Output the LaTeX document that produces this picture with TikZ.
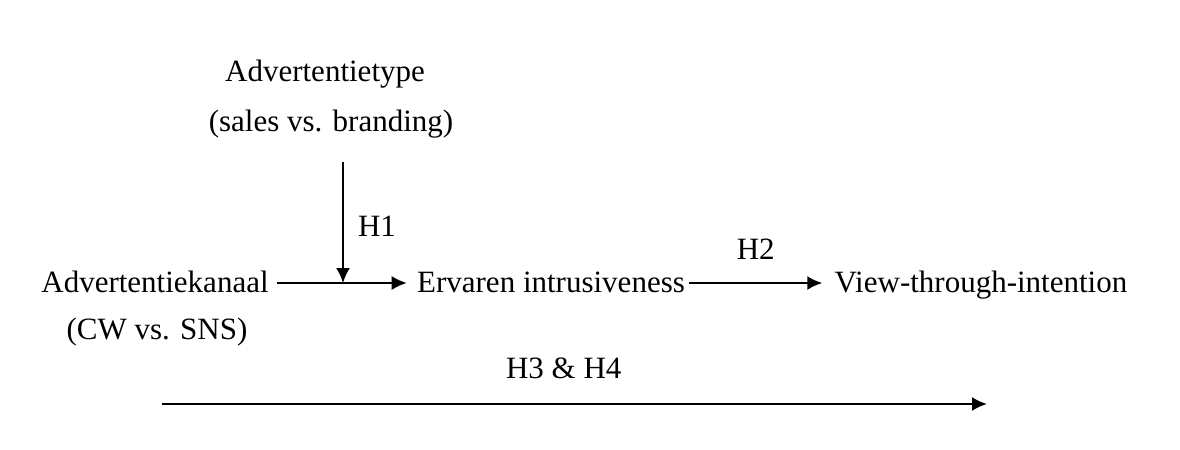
\documentclass[tikz,border=0pt]{standalone}
\usepackage{fontspec}
\setmainfont{Liberation Serif}
\usetikzlibrary{arrows.meta,positioning,calc}

\begin{document}
\begin{tikzpicture}[x=0.5pt,y=-0.5pt,
  every node/.style={font=\fontsize{15.5}{18}\selectfont, inner sep=0pt,
    text height=10.5pt, text depth=3.5pt},
  link/.style={-{Latex[length=7.5pt,width=7pt]}, line width=1pt}]
  \useasboundingbox (0,0) rectangle (1180,450);

  \node (type) at (325,74) {Advertentietype};
  \node (typesub) at (331,124) {(sales vs. branding)};
  \node (kanaal) at (155,285) {Advertentiekanaal};
  \node (kanaalsub) at (157,332) {(CW vs. SNS)};
  \node (intrus) at (551,285) {Ervaren intrusiveness};
  \node (view) at (981,285) {View-through-intention};

  \coordinate (modtop) at (343,162);
  \coordinate (modend) at (343,283);
  \coordinate (totstart) at (162,404);
  \coordinate (totend) at (987,404);

  \draw [link] (kanaal.east |- modend) ++(8,0) -- ([xshift=-5pt]intrus.west |- modend);
  \draw [link] (modtop) -- (modend) node [pos=0.56, right=7pt] {H1};
  \draw [link] ([xshift=2pt]intrus.east |- modend) -- ([xshift=-6pt]view.west |- modend)
    node [midway, above=8pt] {H2};
  \draw [link] (totstart) -- (totend) node [pos=0.487, above=9pt] {H3 \& H4};
\end{tikzpicture}
\end{document}
